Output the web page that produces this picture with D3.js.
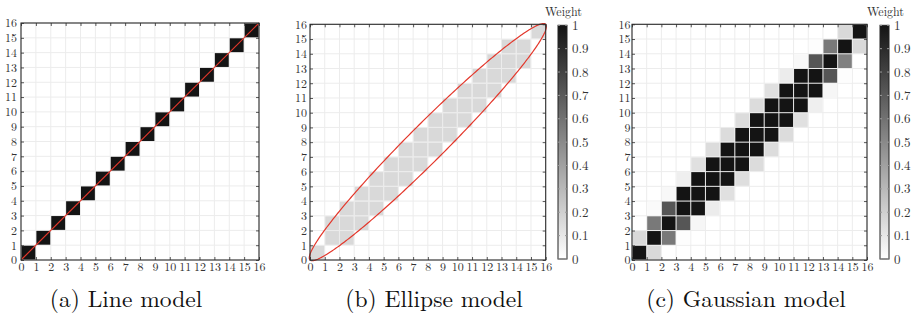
<!DOCTYPE html>
<html>
<head>
<meta charset="utf-8">
<script src="https://cdn.jsdelivr.net/npm/d3@7"></script>
<style>
  html, body { margin: 0; padding: 0; background: #fff; }
  svg { display: block; }
</style>
</head>
<body>
<svg id="chart" width="917" height="321"></svg>
<script>
// ---------------- DATA ----------------
const tickLabels = [0,1,2,3,4,5,6,7,8,9,10,11,12,13,14,15,16];
const colorbarTicks = [0,0.1,0.2,0.3,0.4,0.5,0.6,0.7,0.8,0.9,1];
const captions = ["(a) Line model", "(b) Ellipse model", "(c) Gaussian model"];
const colorbarTitle = "Weight";

// cells: [x, y, weight]
const lineCells = [
  [0,0,1],[1,1,1],[2,2,1],[3,3,1],[4,4,1],[5,5,1],[6,6,1],[7,7,1],
  [8,8,1],[9,9,1],[10,10,1],[11,11,1],[12,12,1],[13,13,1],[14,14,1],[15,15,1]
];
const lineSegment = [[0,0],[16,16]];

const ellipseCells = [
  [0,0,0.16],
  [1,1,0.16],[2,1,0.16],
  [1,2,0.16],[2,2,0.16],[3,2,0.16],
  [2,3,0.16],[3,3,0.16],[4,3,0.16],
  [3,4,0.16],[4,4,0.16],[5,4,0.16],
  [4,5,0.16],[5,5,0.16],[6,5,0.16],
  [5,6,0.16],[6,6,0.16],[7,6,0.16],
  [6,7,0.16],[7,7,0.16],[8,7,0.16],
  [7,8,0.16],[8,8,0.16],[9,8,0.16],
  [8,9,0.16],[9,9,0.16],[10,9,0.16],
  [9,10,0.16],[10,10,0.16],[11,10,0.16],
  [10,11,0.16],[11,11,0.16],[12,11,0.16],
  [11,12,0.16],[12,12,0.16],[13,12,0.16],
  [12,13,0.16],[13,13,0.16],[14,13,0.16],
  [13,14,0.16],[14,14,0.16],
  [15,15,0.16]
];
const ellipseCenter = [8, 8];
const ellipseSemiMajor = 11.3137;   // along the diagonal, corner to corner
const ellipseSemiMinor = 1.25;
const ellipseAngleDeg = 45;

const gaussCells = [
  [0,0,1],[1,0,0.16],
  [0,1,0.16],[1,1,1],[2,1,0.57],[3,1,0.01],
  [1,2,0.57],[2,2,1],[3,2,0.72],[4,2,0.04],
  [1,3,0.02],[2,3,0.72],[3,3,1],[4,3,1],[5,3,0.08],
  [2,4,0.03],[3,4,1],[4,4,1],[5,4,1],[6,4,0.13],
  [3,5,0.07],[4,5,1],[5,5,1],[6,5,1],[7,5,0.14],
  [4,6,0.13],[5,6,1],[6,6,1],[7,6,1],[8,6,0.15],
  [5,7,0.15],[6,7,1],[7,7,1],[8,7,1],[9,7,0.15],
  [6,8,0.15],[7,8,1],[8,8,1],[9,8,1],[10,8,0.15],
  [7,9,0.15],[8,9,1],[9,9,1],[10,9,1],[11,9,0.13],
  [8,10,0.15],[9,10,1],[10,10,1],[11,10,1],[12,10,0.07],
  [9,11,0.13],[10,11,1],[11,11,1],[12,11,1],[13,11,0.04],
  [10,12,0.08],[11,12,1],[12,12,1],[13,12,0.72],[14,12,0.01],
  [11,13,0.03],[12,13,0.72],[13,13,1],[14,13,0.54],
  [12,14,0.01],[13,14,0.57],[14,14,1],[15,14,0.16],
  [14,15,0.16],[15,15,1]
];

// ---------------- LAYOUT ----------------
const panels = [
  {x0:21,  x1:259,   y0:23,   y1:260, cells:lineCells,    overlay:"line",    cbar:null,      capX:126, pad:4},
  {x0:310, x1:545.7, y0:24.3, y1:260, cells:ellipseCells, overlay:"ellipse", cbar:[558,567], capX:434, pad:3},
  {x0:632, x1:867,   y0:24.3, y1:260, cells:gaussCells,   overlay:null,      cbar:[880,889], capX:746, pad:1.5}
];

const svg = d3.select("#chart");
const FONT = "Latin Modern Roman";
const TXT = "#333";
const TICK_FS = "12px";
const color = d3.scaleLinear().domain([0,1]).range(["#ffffff", "#141414"]).interpolate(d3.interpolateRgb);
const dom = [tickLabels[0], tickLabels[tickLabels.length-1]];

panels.forEach((p, i) => {
  const x = d3.scaleLinear().domain(dom).range([p.x0, p.x1]);
  const y = d3.scaleLinear().domain(dom).range([p.y1, p.y0]);
  const g = svg.append("g");

  // grid
  g.append("g").selectAll("line.v").data(tickLabels).join("line")
    .attr("x1", d => x(d)).attr("x2", d => x(d))
    .attr("y1", p.y0).attr("y2", p.y1)
    .attr("stroke", "#ececec").attr("stroke-width", 1);
  g.append("g").selectAll("line.h").data(tickLabels).join("line")
    .attr("y1", d => y(d)).attr("y2", d => y(d))
    .attr("x1", p.x0).attr("x2", p.x1)
    .attr("stroke", "#ececec").attr("stroke-width", 1);

  // cells
  g.append("g").selectAll("rect").data(p.cells).join("rect")
    .attr("x", d => x(d[0]) + 0.5)
    .attr("y", d => y(d[1] + 1) + 0.5)
    .attr("width", d => x(d[0] + 1) - x(d[0]) - 1)
    .attr("height", d => y(d[1]) - y(d[1] + 1) - 1)
    .attr("fill", d => color(d[2]));

  // overlays
  if (p.overlay === "line") {
    g.append("line")
      .attr("x1", x(lineSegment[0][0])).attr("y1", y(lineSegment[0][1]))
      .attr("x2", x(lineSegment[1][0])).attr("y2", y(lineSegment[1][1]))
      .attr("stroke", "#e3372b").attr("stroke-width", 1.2);
  }
  if (p.overlay === "ellipse") {
    const th = ellipseAngleDeg * Math.PI / 180;
    const pts = d3.range(0, 361, 1).map(t => {
      const r = t * Math.PI / 180;
      const u = ellipseSemiMajor * Math.cos(r), v = ellipseSemiMinor * Math.sin(r);
      return [ellipseCenter[0] + u * Math.cos(th) - v * Math.sin(th),
              ellipseCenter[1] + u * Math.sin(th) + v * Math.cos(th)];
    });
    g.append("path")
      .attr("d", d3.line().x(d => x(d[0])).y(d => y(d[1]))(pts))
      .attr("fill", "none").attr("stroke", "#e3372b").attr("stroke-width", 1.2);
  }

  // axes (inner ticks)
  const axB = g.append("g").attr("transform", `translate(0,${p.y1})`)
    .call(d3.axisBottom(x).tickValues(tickLabels).tickSize(-3).tickPadding(2).tickSizeOuter(0));
  const axL = g.append("g").attr("transform", `translate(${p.x0},0)`)
    .call(d3.axisLeft(y).tickValues(tickLabels).tickSize(-3).tickPadding(p.pad).tickSizeOuter(0));
  const axT = g.append("g").attr("transform", `translate(0,${p.y0})`)
    .call(d3.axisTop(x).tickValues(tickLabels).tickSize(-3).tickFormat("").tickSizeOuter(0));
  const axR = g.append("g").attr("transform", `translate(${p.x1},0)`)
    .call(d3.axisRight(y).tickValues(tickLabels).tickSize(-3).tickFormat("").tickSizeOuter(0));
  [axB, axL, axT, axR].forEach(a => {
    a.attr("font-family", null).attr("font-size", null);
    a.select(".domain").remove();
    a.selectAll(".tick line").attr("stroke", "#555");
    a.selectAll("text").style("font-family", FONT).style("font-size", TICK_FS).attr("fill", TXT);
  });

  // frame
  g.append("rect").attr("x", p.x0).attr("y", p.y0)
    .attr("width", p.x1 - p.x0).attr("height", p.y1 - p.y0)
    .attr("fill", "none").attr("stroke", "#2a2a2a").attr("stroke-width", 1.1);

  // colorbar
  if (p.cbar) {
    const gid = "grad" + i;
    const grad = svg.append("defs").append("linearGradient").attr("id", gid)
      .attr("x1", 0).attr("y1", 1).attr("x2", 0).attr("y2", 0);
    grad.append("stop").attr("offset", 0).attr("stop-color", color(0));
    grad.append("stop").attr("offset", 1).attr("stop-color", color(1));
    const cy = d3.scaleLinear().domain([0,1]).range([p.y1 - 1, p.y0 + 1]);
    const cb = g.append("g");
    cb.append("rect").attr("x", p.cbar[0]).attr("y", cy(1))
      .attr("width", p.cbar[1] - p.cbar[0]).attr("height", cy(0) - cy(1))
      .attr("fill", `url(#${gid})`).attr("stroke", "#222").attr("stroke-width", 1);
    cb.selectAll("line.l").data(colorbarTicks).join("line")
      .attr("x1", p.cbar[0]).attr("x2", p.cbar[0] + 2)
      .attr("y1", d => cy(d)).attr("y2", d => cy(d))
      .attr("stroke", "#999").attr("stroke-width", 1);
    cb.selectAll("line.r").data(colorbarTicks).join("line")
      .attr("x1", p.cbar[1] - 2).attr("x2", p.cbar[1])
      .attr("y1", d => cy(d)).attr("y2", d => cy(d))
      .attr("stroke", "#999").attr("stroke-width", 1);
    cb.selectAll("text").data(colorbarTicks).join("text")
      .attr("x", p.cbar[1] + 5).attr("y", d => cy(d))
      .attr("dy", "0.35em")
      .style("font-family", FONT).style("font-size", "13px").attr("fill", TXT)
      .text(d => d3.format("")(d));
    cb.append("text")
      .attr("x", (p.cbar[0] + p.cbar[1]) / 2 + 1).attr("y", 16)
      .attr("text-anchor", "middle")
      .style("font-family", FONT).style("font-size", "12px").attr("fill", TXT)
      .text(colorbarTitle);
  }

  // caption
  svg.append("text")
    .attr("x", p.capX).attr("y", 307)
    .attr("text-anchor", "middle")
    .style("font-family", FONT).style("font-size", "23.5px").attr("fill", "#111")
    .text(captions[i]);
});
</script>
</body>
</html>
